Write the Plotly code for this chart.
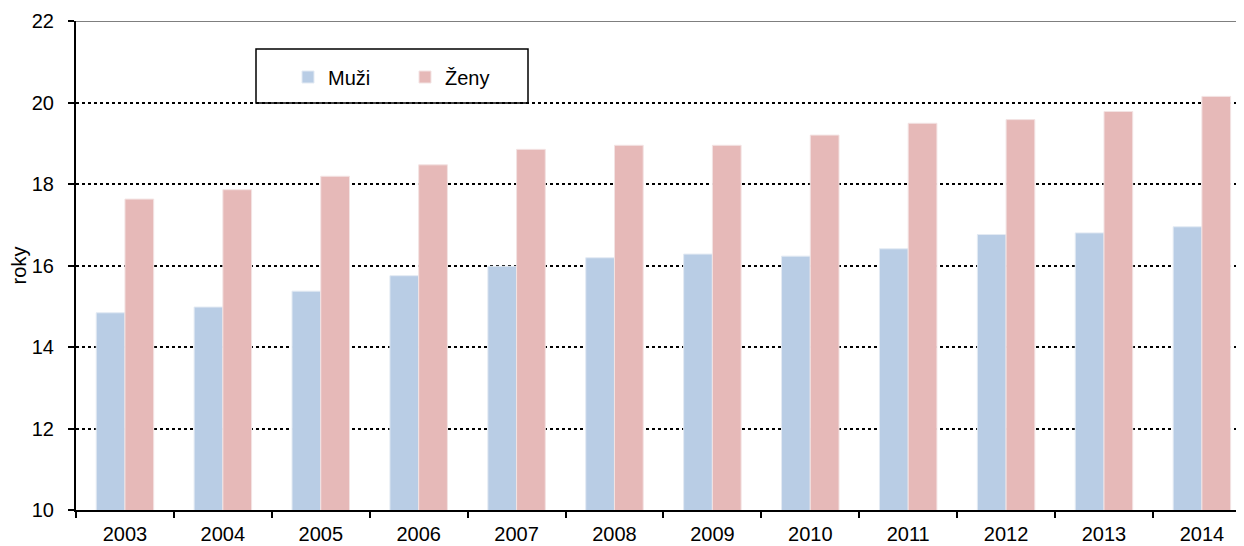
import plotly.graph_objects as go

years = ["2003", "2004", "2005", "2006", "2007", "2008", "2009", "2010", "2011", "2012", "2013", "2014"]
muzi = [14.84, 14.98, 15.37, 15.75, 15.98, 16.19, 16.28, 16.23, 16.41, 16.76, 16.80, 16.95]
zeny = [17.63, 17.86, 18.19, 18.47, 18.85, 18.95, 18.95, 19.20, 19.49, 19.58, 19.78, 20.15]
y_ticks = [10, 12, 14, 16, 18, 20, 22]

# page has an 8px body margin, so the figure is drawn 8px right/down
OFF = 8
W, H = 1244 - OFF, 546 - OFF
ML, MR, MT, MB = 76 - OFF, 0, 21 - OFF, 36
pw = W - ML - MR
ph = H - MT - MB

def px_x(p):  # p: page pixel
    return (p - OFF - ML) / pw

def px_y(p):
    return 1 - (p - OFF - MT) / ph

FONT = "Liberation Sans, Arial, sans-serif"

fig = go.Figure()
fig.add_trace(go.Bar(x=years, y=muzi, name="Muži",
                     marker=dict(color="#B9CDE5", line=dict(color="#E3EAF3", width=1))))
fig.add_trace(go.Bar(x=years, y=zeny, name="Ženy",
                     marker=dict(color="#E6B9B8", line=dict(color="#F3E3E3", width=1))))

fig.update_layout(
    width=W, height=H,
    margin=dict(l=ML, r=MR, t=MT, b=MB, pad=0),
    paper_bgcolor="white", plot_bgcolor="white",
    barmode="group", bargap=0.413, bargroupgap=0,
    font=dict(family=FONT, size=20, color="black"),
    showlegend=True,
    legend=dict(orientation="h", x=px_x(288), y=px_y(77), xanchor="left", yanchor="middle",
                bgcolor="rgba(0,0,0,0)", borderwidth=0, entrywidth=72, entrywidthmode="pixels",
                font=dict(family=FONT, size=20), traceorder="normal"),
    xaxis=dict(type="category", range=[-0.5, 11.43], showline=True, linecolor="black", linewidth=2,
               ticks="outside", tickson="boundaries", ticklen=6, tickwidth=2, tickcolor="black",
               showgrid=False, tickfont=dict(family=FONT, size=20), ticklabelstandoff=5),
    yaxis=dict(range=[10, 22], tickvals=y_ticks, showline=True, linecolor="black", linewidth=2,
               ticks="outside", ticklen=6, tickwidth=2, tickcolor="black",
               showgrid=True, gridcolor="black", gridwidth=1.5, griddash="dot",
               zeroline=False, ticklabelstandoff=10,
               title=dict(text="roky", font=dict(family=FONT, size=20), standoff=6),
               tickfont=dict(family=FONT, size=20)),
    shapes=[
        dict(type="line", xref="paper", yref="y", x0=0, x1=1, y0=22, y1=22,
             line=dict(color="black", width=1)),
        dict(type="rect", xref="paper", yref="paper", x0=px_x(256), x1=px_x(528),
             y0=px_y(103), y1=px_y(49), line=dict(color="black", width=1.5),
             fillcolor="rgba(0,0,0,0)", layer="above"),
    ],
)

fig.write_html("out.html")
